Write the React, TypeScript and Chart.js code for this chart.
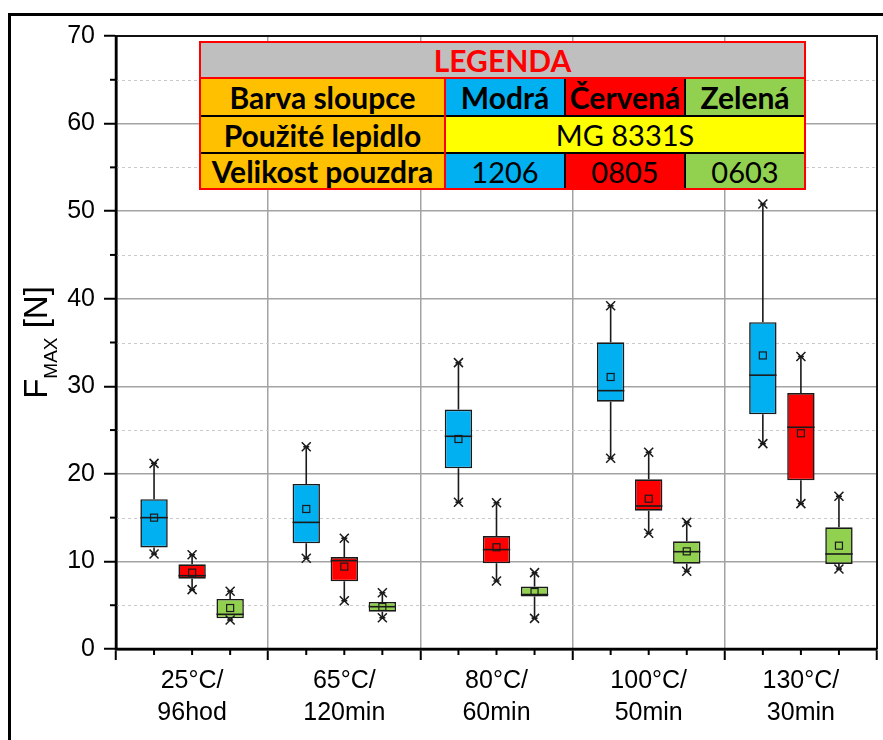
import React, { useEffect, useRef } from "react";
import { Chart, registerables } from "chart.js";

Chart.register(...registerables);

// ---------- data ----------
const categories: string[][] = [
  ["25°C/", "96hod"],
  ["65°C/", "120min"],
  ["80°C/", "60min"],
  ["100°C/", "50min"],
  ["130°C/", "30min"],
];

const seriesNames = ["Modrá", "Červená", "Zelená"];
const seriesSizes = ["1206", "0805", "0603"];
const adhesiveName = "MG 8331S";

// Modrá (1206)
const blueMin = [10.85, 10.36, 16.75, 21.78, 23.45];
const blueQ1 = [11.6, 12.07, 20.63, 28.24, 26.8];
const blueMedian = [15.0, 14.46, 24.29, 29.5, 31.27];
const blueQ3 = [17.1, 18.84, 27.34, 35.02, 37.32];
const blueMax = [21.2, 23.1, 32.7, 39.2, 50.82];
const blueMean = [15.0, 15.99, 23.98, 31.06, 33.52];

// Červená (0805)
const redMin = [6.78, 5.52, 7.77, 13.21, 16.6];
const redQ1 = [8.03, 7.73, 9.79, 15.79, 19.26];
const redMedian = [8.37, 10.09, 11.35, 16.33, 25.32];
const redQ3 = [9.67, 10.5, 12.9, 19.38, 29.23];
const redMax = [10.77, 12.64, 16.7, 22.46, 33.4];
const redMean = [8.72, 9.41, 11.62, 17.16, 24.63];

// Zelená (0603)
const greenMin = [3.31, 3.57, 3.5, 8.87, 9.14];
const greenQ1 = [3.5, 4.26, 5.99, 9.74, 9.71];
const greenMedian = [3.96, 4.83, 6.22, 11.11, 10.85];
const greenQ3 = [5.71, 5.37, 7.13, 12.3, 13.9];
const greenMax = [6.59, 6.43, 8.72, 14.46, 17.44];
const greenMean = [4.68, 4.8, 6.51, 11.15, 11.8];

const yMin = 0;
const yMax = 70;
const yMajorStep = 10;
const yMinorTicks = [5, 15, 25, 35, 45, 55, 65];

// ---------- styles ----------
const BLUE = "#00B0F0";
const RED = "#FF0000";
const GREEN = "#92D050";
const ORANGE = "#FFC000";
const YELLOW = "#FFFF00";
const GRAY = "#BFBFBF";
const GRID = "#a3a3a3";
const FONT = "'Liberation Sans', Arial, sans-serif";

const stats = [
  { min: blueMin, q1: blueQ1, med: blueMedian, q3: blueQ3, max: blueMax, mean: blueMean },
  { min: redMin, q1: redQ1, med: redMedian, q3: redQ3, max: redMax, mean: redMean },
  { min: greenMin, q1: greenQ1, med: greenMedian, q3: greenQ3, max: greenMax, mean: greenMean },
];

const boxPlugin = {
  id: "boxExtras",
  beforeDatasetsDraw(chart: any) {
    const { ctx, chartArea } = chart;
    const y = chart.scales.y;
    ctx.save();
    ctx.strokeStyle = "#c9c9c9";
    ctx.lineWidth = 1;
    ctx.setLineDash([3, 3]);
    for (const v of yMinorTicks) {
      const py = Math.round(y.getPixelForValue(v)) + 0.5;
      ctx.beginPath();
      ctx.moveTo(chartArea.left, py);
      ctx.lineTo(chartArea.right, py);
      ctx.stroke();
    }
    ctx.restore();
  },
  afterDatasetsDraw(chart: any) {
    const { ctx } = chart;
    const y = chart.scales.y;
    ctx.save();
    stats.forEach((s, d) => {
      const meta = chart.getDatasetMeta(d);
      meta.data.forEach((bar: any, i: number) => {
        const x = bar.x;
        const w = bar.width;
        const pMin = y.getPixelForValue(s.min[i]);
        const pQ1 = y.getPixelForValue(s.q1[i]);
        const pQ3 = y.getPixelForValue(s.q3[i]);
        const pMax = y.getPixelForValue(s.max[i]);
        const pMed = y.getPixelForValue(s.med[i]);
        const pMean = y.getPixelForValue(s.mean[i]);
        ctx.strokeStyle = "#1a1a1a";
        ctx.lineWidth = 1.6;
        ctx.setLineDash([]);
        // whiskers
        ctx.beginPath();
        ctx.moveTo(x, pQ3);
        ctx.lineTo(x, pMax);
        ctx.moveTo(x, pQ1);
        ctx.lineTo(x, pMin);
        ctx.stroke();
        // median
        ctx.beginPath();
        ctx.moveTo(x - w / 2, pMed);
        ctx.lineTo(x + w / 2, pMed);
        ctx.stroke();
        // mean square
        ctx.lineWidth = 1.2;
        ctx.strokeRect(x - 3.5, pMean - 3.5, 7, 7);
        // min / max markers
        ctx.lineWidth = 1.5;
        for (const p of [pMin, pMax]) {
          ctx.beginPath();
          ctx.moveTo(x - 4.5, p - 4.5);
          ctx.lineTo(x + 4.5, p + 4.5);
          ctx.moveTo(x + 4.5, p - 4.5);
          ctx.lineTo(x - 4.5, p + 4.5);
          ctx.moveTo(x - 3, p);
          ctx.lineTo(x + 3, p);
          ctx.stroke();
        }
      });
    });
    ctx.restore();
  },
  afterDraw(chart: any) {
    const { ctx, chartArea } = chart;
    const y = chart.scales.y;
    const { left, right, top, bottom } = chartArea;
    ctx.save();
    ctx.setLineDash([]);
    ctx.strokeStyle = "#000";
    // minor y ticks
    ctx.lineWidth = 2;
    for (const v of yMinorTicks) {
      const py = y.getPixelForValue(v);
      ctx.beginPath();
      ctx.moveTo(left - 6, py);
      ctx.lineTo(left, py);
      ctx.stroke();
    }
    // minor x ticks at box positions
    stats.forEach((_s, d) => {
      chart.getDatasetMeta(d).data.forEach((bar: any) => {
        ctx.beginPath();
        ctx.moveTo(bar.x, bottom);
        ctx.lineTo(bar.x, bottom + 6);
        ctx.stroke();
      });
    });
    // plot frame
    ctx.lineWidth = 2;
    ctx.strokeStyle = "#111";
    ctx.beginPath();
    ctx.moveTo(left, top);
    ctx.lineTo(right, top);
    ctx.lineTo(right, bottom);
    ctx.stroke();
    ctx.lineWidth = 2.5;
    ctx.strokeStyle = "#000";
    ctx.beginPath();
    ctx.moveTo(left, top);
    ctx.lineTo(left, bottom);
    ctx.lineTo(right, bottom);
    ctx.stroke();

    // y axis title: F_MAX [N]
    const mainFont = `33px ${FONT}`;
    const subFont = `19px ${FONT}`;
    ctx.fillStyle = "#000";
    ctx.textBaseline = "alphabetic";
    ctx.textAlign = "left";
    ctx.font = mainFont;
    const wF = ctx.measureText("F").width;
    const wN = ctx.measureText(" [N]").width;
    ctx.font = subFont;
    const wM = ctx.measureText("MAX").width;
    const total = wF + wM + wN;
    ctx.translate(47, (top + bottom) / 2);
    ctx.rotate(-Math.PI / 2);
    let tx = -total / 2;
    ctx.font = mainFont;
    ctx.fillText("F", tx, 0);
    tx += wF;
    ctx.font = subFont;
    ctx.fillText("MAX", tx, 10);
    tx += wM;
    ctx.font = mainFont;
    ctx.fillText(" [N]", tx, 0);
    ctx.restore();

    // outer frame (top & left visible)
    ctx.save();
    ctx.strokeStyle = "#000";
    ctx.lineWidth = 3;
    ctx.beginPath();
    ctx.moveTo(9.5, 745);
    ctx.lineTo(9.5, 14.5);
    ctx.lineTo(890, 14.5);
    ctx.stroke();
    ctx.restore();
  },
};

const colX = [0, 245, 365, 485, 605];
const rowY = [0, 36, 74, 111, 147];

function Cell(props: { c0: number; c1: number; r: number; bg: string; text: string; bold?: boolean; color?: string }) {
  const { c0, c1, r, bg, text, bold, color } = props;
  return (
    <div
      style={{
        position: "absolute",
        left: colX[c0],
        top: rowY[r],
        width: colX[c1] - colX[c0],
        height: rowY[r + 1] - rowY[r],
        background: bg,
        display: "flex",
        alignItems: "center",
        justifyContent: "center",
        fontFamily: "Lato, 'Noto Sans', sans-serif",
        fontWeight: bold ? 700 : 400,
        fontSize: bold ? 30 : 29,
        color: color || "#000",
        whiteSpace: "nowrap",
        lineHeight: 1,
      }}
    >
      {text}
    </div>
  );
}

function Line(props: { x: number; y: number; w: number; h: number; c: string }) {
  return <div style={{ position: "absolute", left: props.x, top: props.y, width: props.w, height: props.h, background: props.c }} />;
}

function LegendTable() {
  const fills = [BLUE, RED, GREEN];
  return (
    <div style={{ position: "absolute", left: 200, top: 42, width: 605, height: 147 }}>
      <Cell c0={0} c1={4} r={0} bg={GRAY} text="LEGENDA" bold color={RED} />
      <Cell c0={0} c1={1} r={1} bg={ORANGE} text="Barva sloupce" bold />
      {seriesNames.map((n, i) => (
        <Cell key={n} c0={i + 1} c1={i + 2} r={1} bg={fills[i]} text={n} bold />
      ))}
      <Cell c0={0} c1={1} r={2} bg={ORANGE} text="Použité lepidlo" bold />
      <Cell c0={1} c1={4} r={2} bg={YELLOW} text={adhesiveName} />
      <Cell c0={0} c1={1} r={3} bg={ORANGE} text="Velikost pouzdra" bold />
      {seriesSizes.map((n, i) => (
        <Cell key={n} c0={i + 1} c1={i + 2} r={3} bg={fills[i]} text={n} />
      ))}
      <Line x={0} y={73} w={605} h={1.5} c="#000" />
      <Line x={0} y={110} w={605} h={1.5} c="#000" />
      <Line x={364} y={36} w={1.5} h={38} c="#000" />
      <Line x={484} y={36} w={1.5} h={38} c="#000" />
      <Line x={364} y={111} w={1.5} h={36} c="#000" />
      <Line x={484} y={111} w={1.5} h={36} c="#000" />
      <Line x={244} y={36} w={2} h={111} c={RED} />
      <Line x={0} y={35} w={605} h={2} c={RED} />
      <div style={{ position: "absolute", left: -1, top: -1, width: 607, height: 149, border: `2px solid ${RED}`, boxSizing: "border-box" }} />
    </div>
  );
}

export default function App() {
  const ref = useRef<HTMLCanvasElement | null>(null);

  useEffect(() => {
    if (!ref.current) return;
    Chart.defaults.font.family = FONT;
    const fills = [BLUE, RED, GREEN];
    const chart = new Chart(ref.current, {
      type: "bar",
      data: {
        labels: categories as any,
        datasets: stats.map((s, d) => ({
          label: seriesNames[d],
          data: s.q1.map((q, i) => [q, s.q3[i]]) as any,
          backgroundColor: fills[d],
          borderColor: "#1a1a1a",
          borderWidth: 1.6,
          borderSkipped: false,
          categoryPercentage: 0.75,
          barPercentage: 0.72,
        })),
      },
      options: {
        animation: false,
        responsive: false,
        events: [],
        layout: { padding: { top: 36, right: 6, left: 0, bottom: 0 } },
        plugins: { legend: { display: false }, tooltip: { enabled: false } },
        scales: {
          x: {
            grid: { offset: true, color: GRID, lineWidth: 1.5, tickColor: "#000", tickLength: 11, tickWidth: 2 },
            border: { color: "#000", width: 2.5 },
            ticks: { font: { size: 25, family: FONT, lineHeight: 1.28 }, color: "#000", padding: 5, maxRotation: 0, autoSkip: false },
            afterFit: (s: any) => {
              s.height = 91;
            },
          },
          y: {
            min: yMin,
            max: yMax,
            ticks: { stepSize: yMajorStep, font: { size: 25, family: FONT }, color: "#000", padding: 9 },
            grid: { color: GRID, lineWidth: 1.5, tickColor: "#000", tickLength: 12, tickWidth: 2 },
            border: { color: "#000", width: 2.5 },
            afterFit: (s: any) => {
              s.width = 116;
            },
          },
        },
      },
      plugins: [boxPlugin],
    });
    return () => chart.destroy();
  }, []);

  return (
    <div style={{ position: "absolute", left: 0, top: 0, width: 883, height: 740, background: "#fff", overflow: "hidden" }}>
      <canvas ref={ref} width={883} height={740} style={{ display: "block", width: 883, height: 740 }} />
      <LegendTable />
    </div>
  );
}
